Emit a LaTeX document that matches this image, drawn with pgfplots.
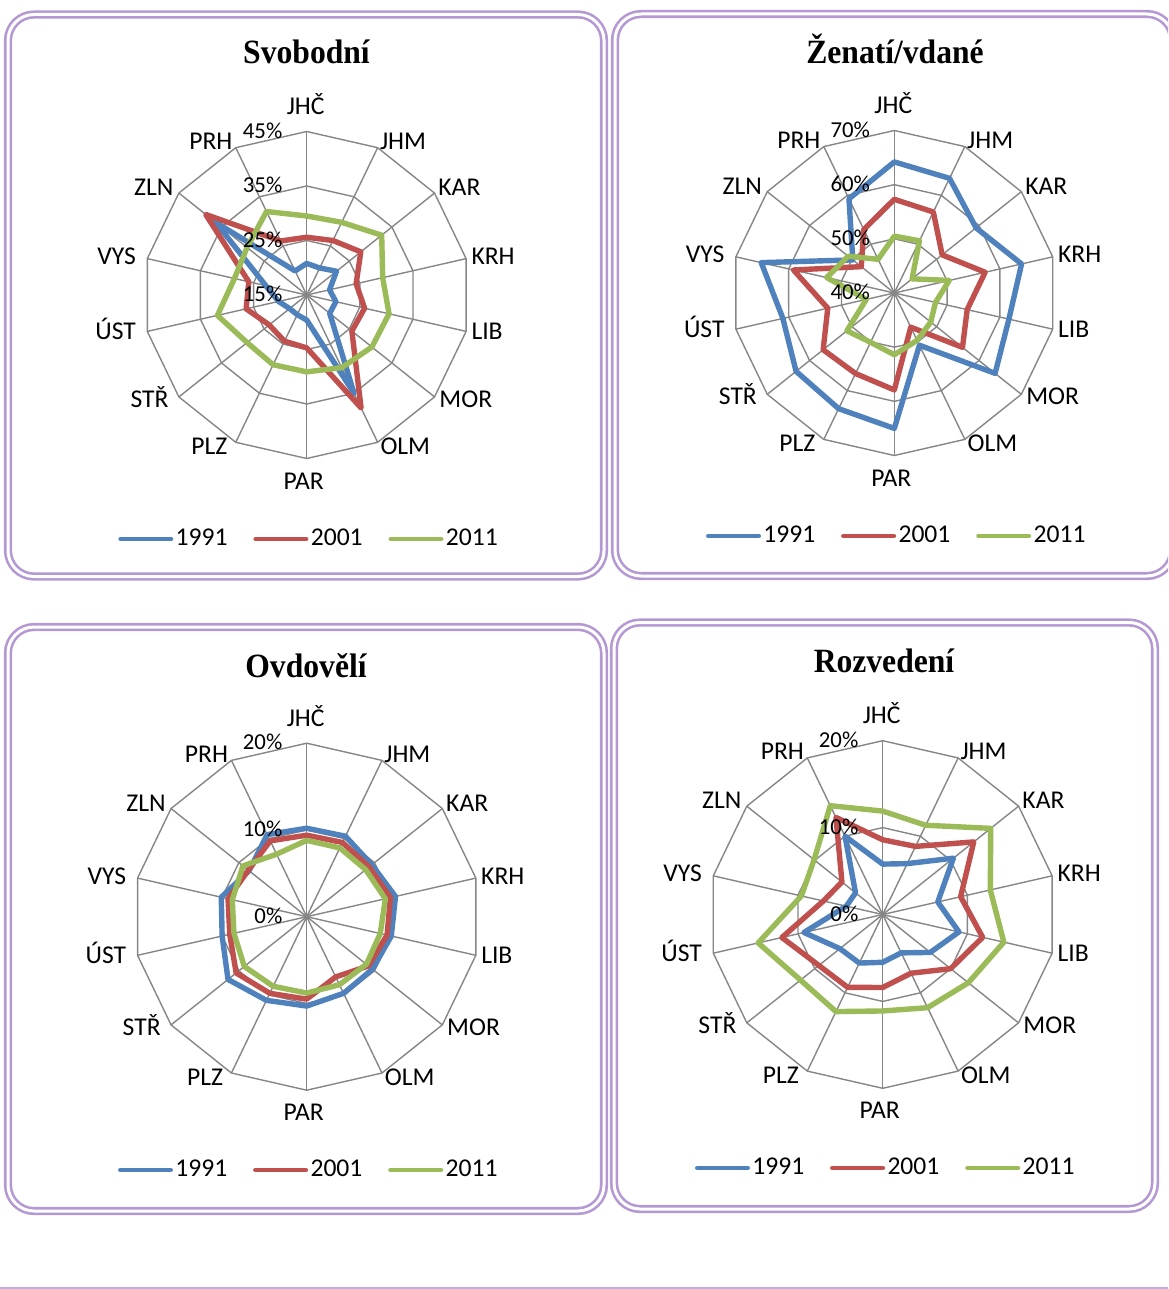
\documentclass[border=0pt]{standalone}
\usepackage{fontspec}
\setmainfont{Carlito}
\newfontfamily\titlefont[FakeStretch=0.93]{Liberation Serif}
\usepackage{pgfplots}
\pgfplotsset{compat=1.18}
\usepackage{pgfplotstable}

\definecolor{c91}{RGB}{79,129,189}
\definecolor{c01}{RGB}{192,80,77}
\definecolor{c11}{RGB}{155,187,89}
\definecolor{gridc}{RGB}{134,134,134}
\definecolor{framec}{RGB}{180,152,212}

% k = JHC, JHM, KAR, KRH, LIB, MOR, OLM, PAR, PLZ, STR, UST, VYS, ZLN, PRH
% a = 1991, b = 2001, c = 2011 (percent)
\pgfplotstableread{
k a b c
0 20.8 25.6 29.5
1 20.5 26.1 29.8
2 22.0 27.7 32.6
3 19.3 24.3 29.3
4 20.5 25.9 30.5
5 20.4 25.6 30.3
6 35.0 38.0 29.8
7 19.6 24.7 29.1
8 19.0 24.4 29.2
9 19.0 23.8 29.0
10 20.3 26.4 31.8
11 22.7 25.9 28.6
12 36.4 38.7 29.0
13 19.9 26.0 32.0
}\svobodni

\pgfplotstableread{
k a b c
0 64.2 57.3 50.5
1 63.5 56.6 50.7
2 59.3 51.3 44.2
3 64.1 57.2 50.4
4 61.7 53.8 47.8
5 63.8 56.1 48.6
6 50.7 47.0 49.7
7 65.0 57.9 51.4
8 63.7 56.5 50.1
9 63.2 56.8 51.2
10 61.1 52.6 45.3
11 65.2 59.1 52.8
12 49.8 47.8 50.9
13 59.3 53.0 46.9
}\zenati

\pgfplotstableread{
k a b c
0 10.2 9.4 8.8
1 10.3 9.5 8.8
2 9.6 9.2 8.7
3 10.5 9.9 9.3
4 10.0 9.5 8.7
5 9.7 9.1 8.8
6 9.8 7.7 8.7
7 10.3 9.5 8.8
8 10.7 9.8 8.9
9 11.6 10.4 9.2
10 10.0 9.1 8.6
11 10.1 9.3 8.8
12 8.5 8.6 9.4
13 10.5 9.7 8.0
}\ovdoveli

\pgfplotstableread{
k a b c
0 5.8 8.6 11.9
1 6.5 8.7 11.4
2 10.4 13.4 15.9
3 6.5 9.2 12.7
4 9.0 11.8 14.3
5 7.0 10.0 12.6
6 4.9 7.5 11.9
7 5.5 8.4 11.1
8 6.2 9.3 12.4
9 6.3 9.4 12.1
10 9.3 11.9 14.7
11 4.3 7.0 9.6
12 4.0 6.0 10.1
13 10.0 12.4 13.9
}\rozvedeni

\newcommand\catfont{\fontsize{12.8}{15}\selectfont}
\newcommand\tickfont{\fontsize{11.4}{13}\selectfont}
\newcommand\ttlfont{\titlefont\bfseries\fontsize{17}{20}\selectfont}

\pgfplotsset{
  dline/.style={line width=2.7pt, line join=round},
  legend columns=3,
  every axis legend/.append style={anchor=west, draw=none, fill=none,
    inner sep=0pt, outer sep=0pt, font=\catfont, nodes={inner sep=0pt},
    /tikz/every odd column/.append style={column sep=1.2pt},
    /tikz/every even column/.append style={column sep=12.9pt}},
  legend image code/.code={\draw[#1, line width=2.3pt, line cap=round] (1.15pt,0pt) -- (26.35pt,0pt);},
}

% grid: centre x, centre y, radius (px), number of rings
\newcommand\radargrid[4]{%
  \foreach \k in {0,...,13}
    \draw[gridc, line width=0.7pt] (#1,#2) -- ++({#3*sin(\k*360/14)},{-#3*cos(\k*360/14)});
  \foreach \j in {1,...,#4}
    \draw[gridc, line width=0.7pt] plot[samples at={0,...,13}, variable=\t]
      ({#1+#3*\j/#4*sin(\t*360/14)},{#2-#3*\j/#4*cos(\t*360/14)}) -- cycle;
}

\newcommand\radarlabels[3]{%
  \foreach \k/\nm/\an/\dx/\dy in {0/JHČ/base/-1/-17, 1/JHM/base west/2/2,
      2/KAR/base west/3.5/2.5, 3/KRH/base west/5/6, 4/LIB/base west/5/8.5,
      5/MOR/base west/4.5/10.5, 6/OLM/base west/2.5/12, 7/PAR/base/-3/30.5,
      8/PLZ/base east/-8/12, 9/STŘ/base east/-10/10.5, 10/ÚST/base east/-11/8.5,
      11/VYS/base east/-11/6, 12/ZLN/base east/-5/2.5, 13/PRH/base east/-3/2}
    \node[anchor=\an, inner sep=0pt, font=\catfont]
      at ({#1+#3*sin(\k*360/14)+\dx},{#2-#3*cos(\k*360/14)+\dy}) {\nm};
}

% tick labels: centre x, centre y, step (px), list from centre outwards
\newcommand\radarticks[4]{%
  \foreach \v [count=\i from 0] in {#4}
    \node[anchor=base east, inner sep=0pt, font=\tickfont] at (#1-24,#2-\i*#3+6.7) {\v\%};
}

% axis: cx, cy, R (px), half range, minimum, table, legend x, legend y
\newcommand\radaraxis[8]{%
\begin{axis}[at={({#1*0.5pt},{-#2*0.5pt})}, anchor=center,
  width=#3pt, height=#3pt, scale only axis,
  xmin=-#4, xmax=#4, ymin=-#4, ymax=#4, hide axis, clip=false,
  legend style={at={(axis cs:#7,#8)}}]
\addplot[c91, dline] table[x expr={(\thisrow{a}-#5)*cos(90-\thisrow{k}*360/14)},
  y expr={(\thisrow{a}-#5)*sin(90-\thisrow{k}*360/14)}] {#6} -- cycle;
\addplot[c01, dline] table[x expr={(\thisrow{b}-#5)*cos(90-\thisrow{k}*360/14)},
  y expr={(\thisrow{b}-#5)*sin(90-\thisrow{k}*360/14)}] {#6} -- cycle;
\addplot[c11, dline] table[x expr={(\thisrow{c}-#5)*cos(90-\thisrow{k}*360/14)},
  y expr={(\thisrow{c}-#5)*sin(90-\thisrow{k}*360/14)}] {#6} -- cycle;
\legend{1991,2001,2011}
\end{axis}}

\begin{document}
\begin{tikzpicture}
\useasboundingbox (0,0) rectangle (584pt,-644.5pt);
\clip (0,0) rectangle (584pt,-644.5pt);

\begin{scope}[x=0.5pt, y=-0.5pt]
  \tikzset{panel/.style={draw=framec, line width=1.3pt, double=white,
    double distance=1.5pt, rounded corners=13pt}}
  \path[panel] (8,14.5) rectangle (604,576.5);
  \path[panel] (615,14) rectangle (1173,576);
  \path[panel] (8,627) rectangle (604,1211);
  \path[panel] (614,622.5) rectangle (1155,1209);
  \draw[framec!80, line width=1pt] (0,1287.5) -- (1168,1287.5);

  \node[anchor=base, inner sep=0pt, font=\ttlfont] at (306.5,63.5) {Svobodní};
  \node[anchor=base, inner sep=0pt, font=\ttlfont] at (895,63.5) {Ženatí/vdané};
  \node[anchor=base, inner sep=0pt, font=\ttlfont] at (306,677.5) {Ovdovělí};
  \node[anchor=base, inner sep=0pt, font=\ttlfont] at (884,672.5) {Rozvedení};

  \radargrid{306.7}{295}{163.5}{3}
  \radargrid{894.3}{293}{162.5}{3}
  \radargrid{306.7}{916.7}{173.5}{2}
  \radargrid{882.7}{914.5}{173.8}{2}
\end{scope}

\radaraxis{306.7}{295}{163.5}{30}{15}{\svobodni}{-34.57}{-44.77}
\radaraxis{894.3}{293}{162.5}{30}{40}{\zenati}{-34.76}{-44.86}
\radaraxis{306.7}{916.7}{173.5}{20}{0}{\ovdoveli}{-21.75}{-29.20}
\radaraxis{882.7}{914.5}{173.8}{20}{0}{\rozvedeni}{-21.60}{-29.17}

\begin{scope}[x=0.5pt, y=-0.5pt]
  \radarticks{306.7}{295}{54.5}{15,25,35,45}
  \radarticks{894.3}{293}{54.17}{40,50,60,70}
  \radarticks{306.7}{916.7}{86.75}{0,10,20}
  \radarticks{882.7}{914.5}{86.9}{0,10,20}
  \radarlabels{306.7}{295}{163.5}
  \radarlabels{894.3}{293}{162.5}
  \radarlabels{306.7}{916.7}{173.5}
  \radarlabels{882.7}{914.5}{173.8}
\end{scope}
\end{tikzpicture}
\end{document}
